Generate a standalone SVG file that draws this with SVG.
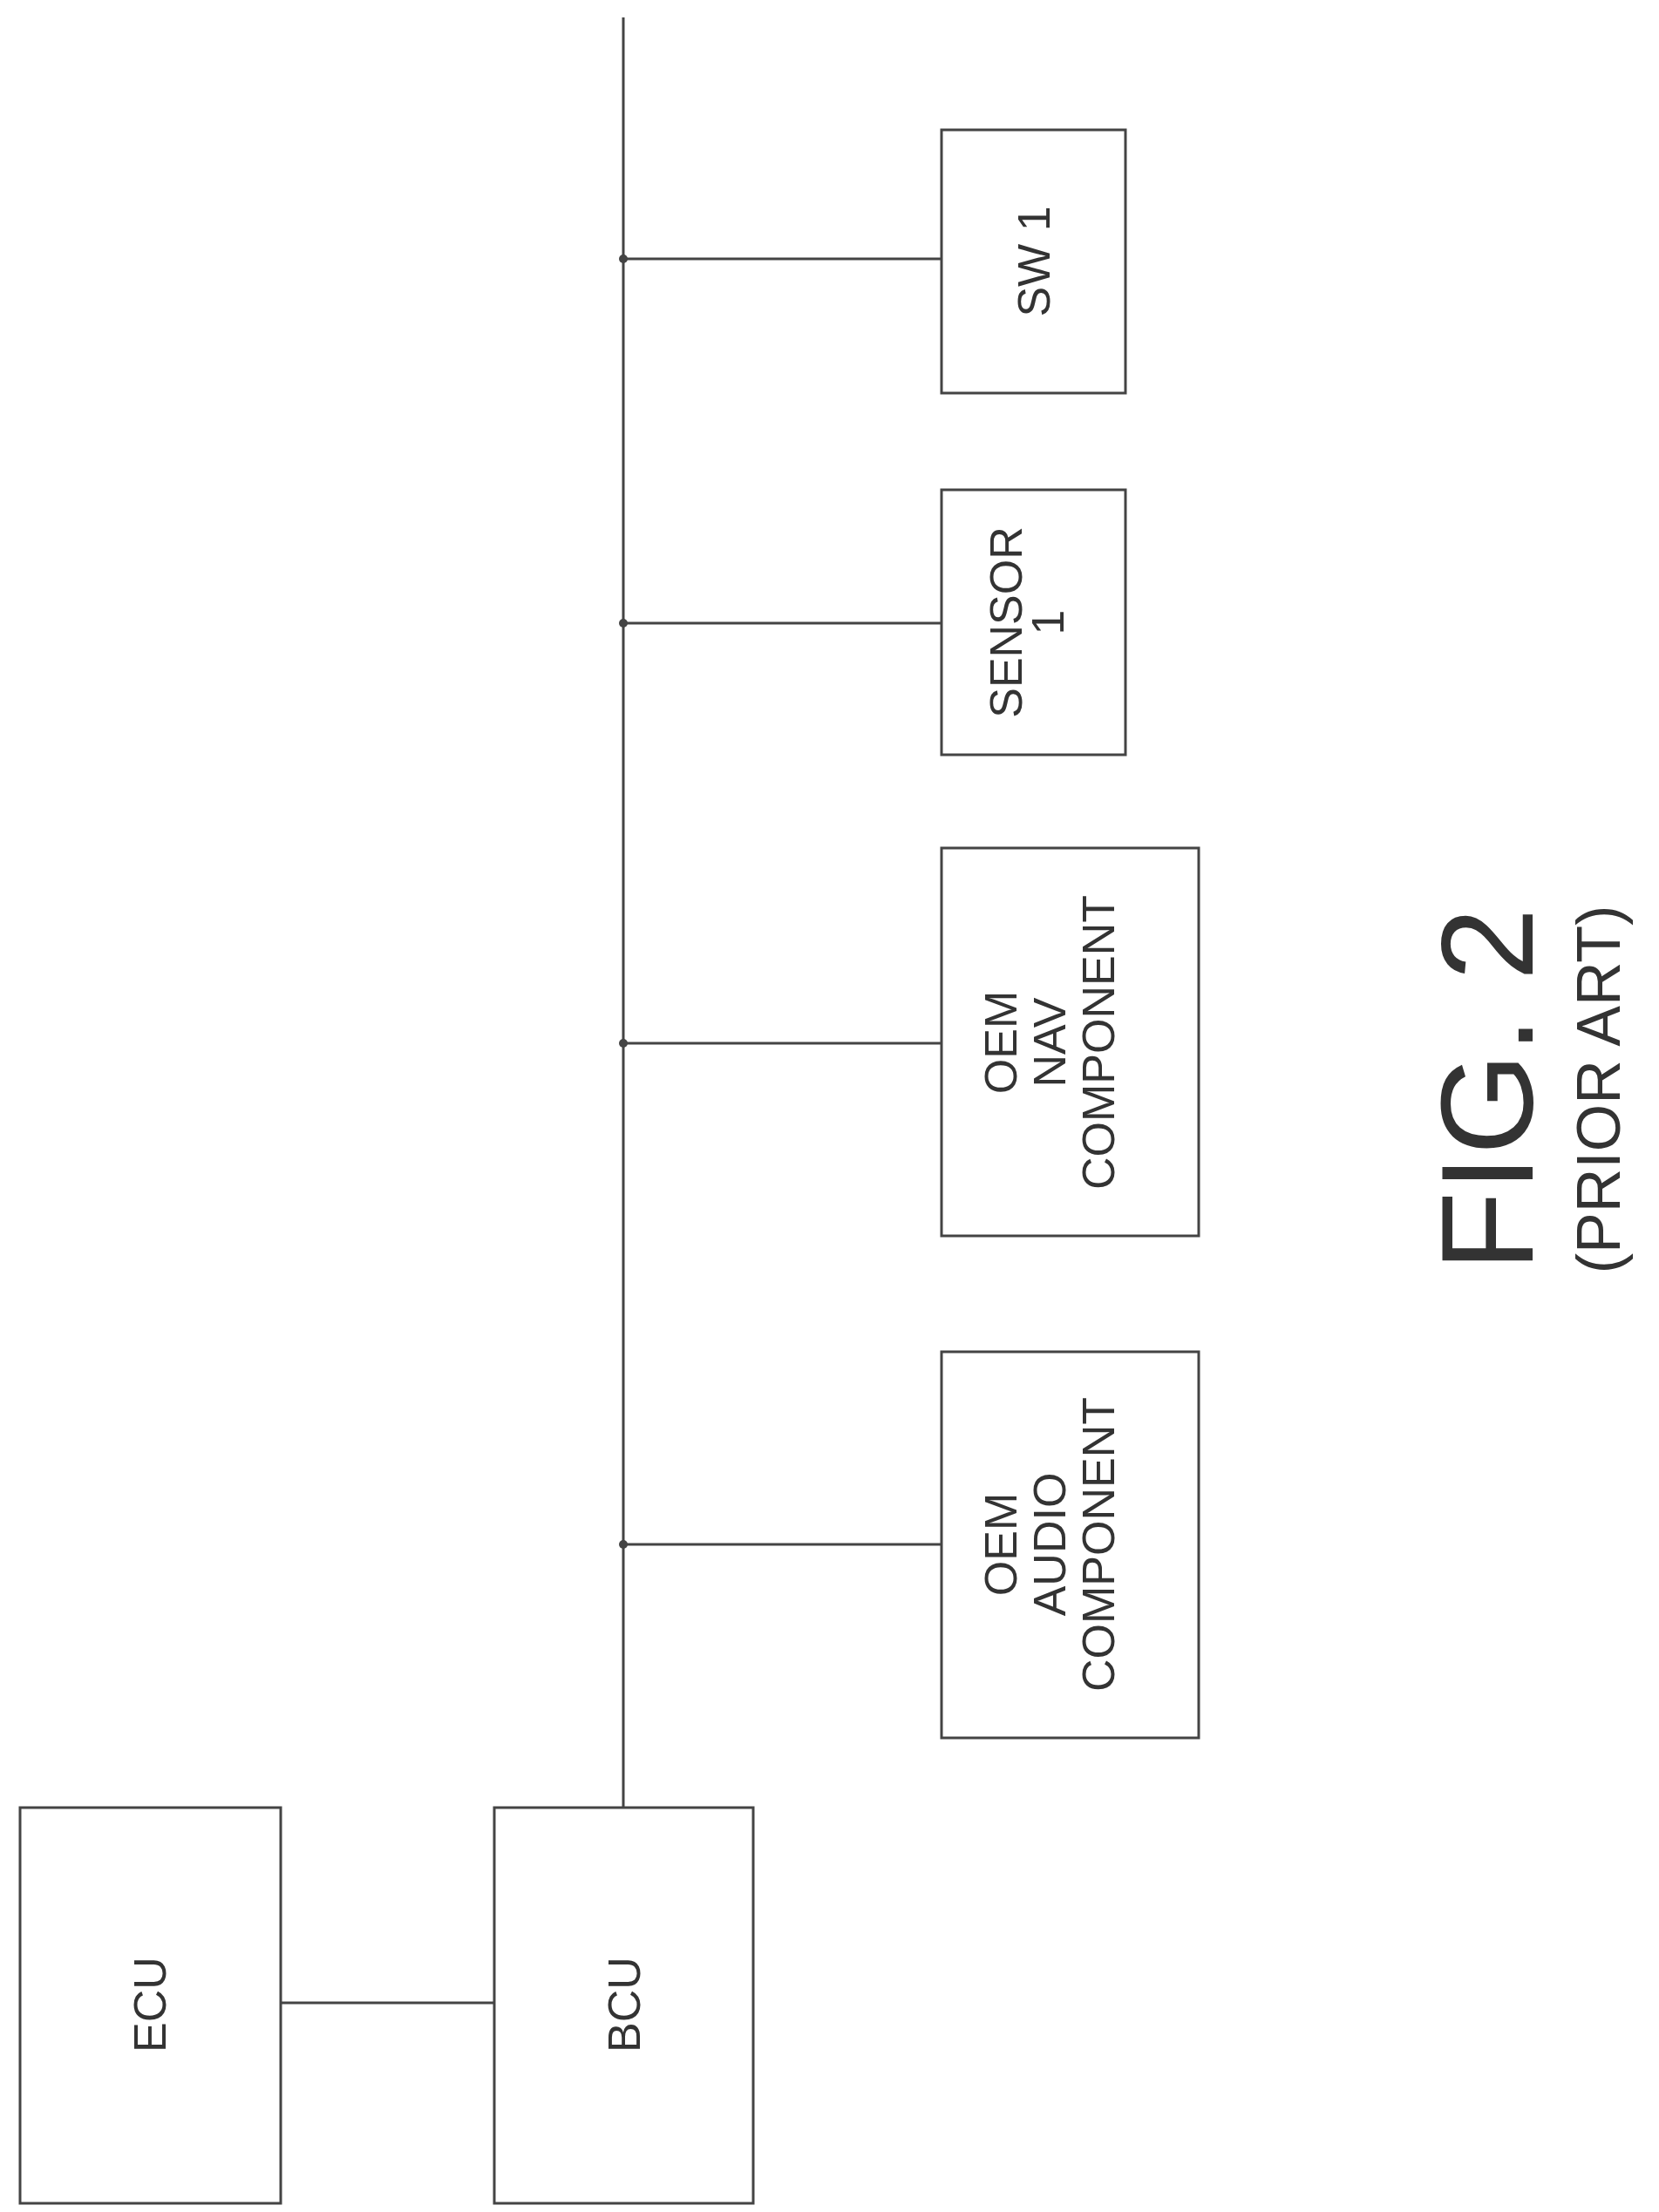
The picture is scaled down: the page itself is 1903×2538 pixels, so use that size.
<svg xmlns="http://www.w3.org/2000/svg" width="1903" height="2538" viewBox="0 0 1903 2538">
<style>
.b{fill:#fff;stroke:#444;stroke-width:3}
.l{stroke:#444;stroke-width:3;fill:none}
.t{font-family:"Liberation Sans",Arial,sans-serif;font-size:52px;fill:#333;text-anchor:middle}
</style>
<rect width="1903" height="2538" fill="#fff"/>
<g id="connectors">
<line class="l" x1="715" y1="20" x2="715" y2="2074"/>
<line class="l" x1="715" y1="297" x2="1080" y2="297"/>
<line class="l" x1="715" y1="715" x2="1080" y2="715"/>
<line class="l" x1="715" y1="1197" x2="1080" y2="1197"/>
<line class="l" x1="715" y1="1772" x2="1080" y2="1772"/>
<line class="l" x1="322" y1="2298" x2="567" y2="2298"/>
<circle cx="715" cy="297" r="5" fill="#444"/>
<circle cx="715" cy="715" r="5" fill="#444"/>
<circle cx="715" cy="1197" r="5" fill="#444"/>
<circle cx="715" cy="1772" r="5" fill="#444"/>
</g>
<g id="sw1"><rect class="b" x="1080" y="149" width="211" height="302"/>
<text class="t" transform="translate(1204,300) rotate(-90)">SW 1</text></g>
<g id="sensor1"><rect class="b" x="1080" y="562" width="211" height="304"/>
<text class="t" transform="translate(1172,714) rotate(-90)">SENSOR</text>
<text class="t" transform="translate(1220,714) rotate(-90)">1</text></g>
<g id="nav"><rect class="b" x="1080" y="973" width="295" height="445"/>
<text class="t" transform="translate(1166,1196) rotate(-90)">OEM</text>
<text class="t" transform="translate(1222,1196) rotate(-90)">NAV</text>
<text class="t" transform="translate(1278,1196) rotate(-90)">COMPONENT</text></g>
<g id="audio"><rect class="b" x="1080" y="1551" width="295" height="443"/>
<text class="t" transform="translate(1166,1772) rotate(-90)">OEM</text>
<text class="t" transform="translate(1222,1772) rotate(-90)">AUDIO</text>
<text class="t" transform="translate(1278,1772) rotate(-90)">COMPONENT</text></g>
<g id="ecu"><rect class="b" x="23" y="2074" width="299" height="454"/>
<text class="t" transform="translate(190,2300) rotate(-90)">ECU</text></g>
<g id="bcu"><rect class="b" x="567" y="2074" width="297" height="454"/>
<text class="t" transform="translate(734,2300) rotate(-90)">BCU</text></g>
<g id="caption">
<text class="t" style="font-size:150px" transform="translate(1758,1250) rotate(-90)">FIG. 2</text>
<text class="t" style="font-size:70px" transform="translate(1858,1250) rotate(-90)">(PRIOR ART)</text>
</g>
</svg>
